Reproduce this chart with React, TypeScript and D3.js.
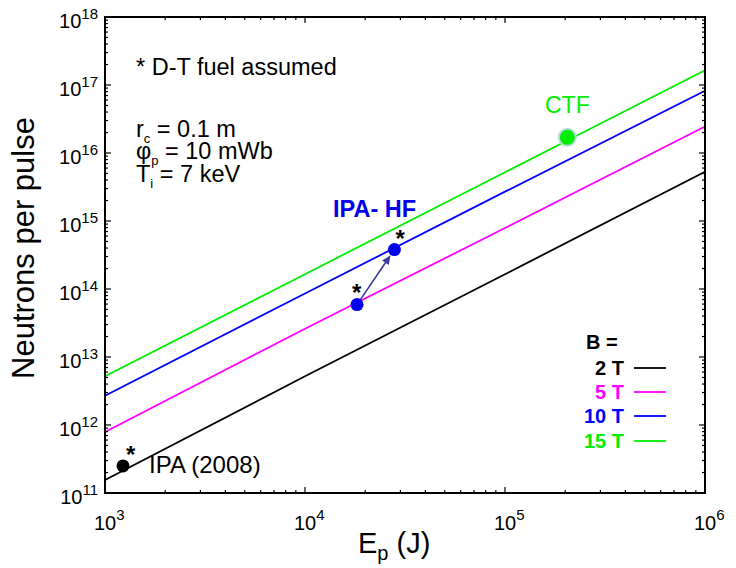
import React from "react";
import * as d3 from "d3";

const energyJ = [1e3, 1e4, 1e5, 1e6];
const neutrons2T = [1.55e11, 5.2e12, 1.65e14, 5.3e15];
const neutrons5T = [7.9e11, 2.6e13, 7.9e14, 2.45e16];
const neutrons10T = [2.7e12, 8.6e13, 2.7e15, 8.2e16];
const neutrons15T = [5.2e12, 1.65e14, 5.2e15, 1.65e17];

const seriesNames = ["2 T", "5 T", "10 T", "15 T"];
const seriesColors = ["#000000", "#ff00ff", "#0000ff", "#00ee00"];

const ipa2008 = { e: 1230, n: 2.5e11 };
const ipaHFLow = { e: 18200, n: 5.9e13 };
const ipaHFHigh = { e: 28000, n: 3.8e14 };
const ctf = { e: 2.05e5, n: 1.7e16 };

const xTickExps = [3, 4, 5, 6];
const yTickExps = [11, 12, 13, 14, 15, 16, 17, 18];

const W = 736, H = 568;
const L = 105, R = 705, T = 17, B = 493;
const FONT = "Liberation Sans, Arial, Helvetica, sans-serif";

export default function App() {
  const x = d3.scaleLog().domain([1e3, 1e6]).range([L, R]);
  const y = d3.scaleLog().domain([1e11, 1e18]).range([B, T]);
  const series = [neutrons2T, neutrons5T, neutrons10T, neutrons15T];
  const line = d3
    .line<[number, number]>()
    .x((d) => x(d[0]))
    .y((d) => y(d[1]));

  const xMinor: number[] = [];
  for (let e = 3; e < 6; e++) for (let k = 2; k <= 9; k++) xMinor.push(k * Math.pow(10, e));
  const yMinor: number[] = [];
  for (let e = 11; e < 18; e++) for (let k = 2; k <= 9; k++) yMinor.push(k * Math.pow(10, e));

  const ax1 = x(ipaHFLow.e), ay1 = y(ipaHFLow.n);
  const ax2 = x(ipaHFHigh.e), ay2 = y(ipaHFHigh.n);
  const ang = Math.atan2(ay2 - ay1, ax2 - ax1);
  const tipX = ax2 - Math.cos(ang) * 7, tipY = ay2 - Math.sin(ang) * 7;
  const ah = 9, aw = 4;
  const bx = tipX - Math.cos(ang) * ah, by = tipY - Math.sin(ang) * ah;
  const arrowHead = `M${tipX},${tipY} L${bx - Math.sin(ang) * aw},${by + Math.cos(ang) * aw} L${bx + Math.sin(ang) * aw},${by - Math.cos(ang) * aw} Z`;

  const legendY = [368, 392, 416, 441];

  return (
    <svg width={W} height={H} style={{ position: "absolute", left: 0, top: 0, background: "#fff" }} fontFamily={FONT}>
      <rect x={0} y={0} width={W} height={H} fill="#fff" />
      <defs>
        <clipPath id="plotclip">
          <rect x={L} y={T} width={R - L} height={B - T} />
        </clipPath>
      </defs>
      <g clipPath="url(#plotclip)">
        {series.map((s, i) => (
          <path
            key={i}
            d={line(energyJ.map((e, j) => [e, s[j]] as [number, number])) || ""}
            fill="none"
            stroke={seriesColors[i]}
            strokeWidth={1.8}
          />
        ))}
      </g>

      {/* ticks */}
      <g stroke="#000" strokeWidth={1.2}>
        {xTickExps.map((e) => {
          const px = x(Math.pow(10, e));
          return (
            <g key={"xt" + e}>
              <line x1={px} x2={px} y1={B} y2={B - 6} />
              <line x1={px} x2={px} y1={T} y2={T + 6} />
            </g>
          );
        })}
        {xMinor.map((v, i) => {
          const px = x(v);
          return (
            <g key={"xm" + i}>
              <line x1={px} x2={px} y1={B} y2={B - 3} />
              <line x1={px} x2={px} y1={T} y2={T + 3} />
            </g>
          );
        })}
        {yTickExps.map((e) => {
          const py = y(Math.pow(10, e));
          return (
            <g key={"yt" + e}>
              <line x1={L} x2={L + 6} y1={py} y2={py} />
              <line x1={R} x2={R - 6} y1={py} y2={py} />
            </g>
          );
        })}
        {yMinor.map((v, i) => {
          const py = y(v);
          return (
            <g key={"ym" + i}>
              <line x1={L} x2={L + 3} y1={py} y2={py} />
              <line x1={R} x2={R - 3} y1={py} y2={py} />
            </g>
          );
        })}
      </g>
      <rect x={L} y={T} width={R - L} height={B - T} fill="none" stroke="#000" strokeWidth={2} />

      {/* tick labels */}
      {xTickExps.map((e) => (
        <text key={"xl" + e} x={x(Math.pow(10, e)) - 11} y={530} fontSize={20} fill="#000">
          10
          <tspan dy={-10} fontSize={15}>{e}</tspan>
        </text>
      ))}
      {yTickExps.map((e) => (
        <text key={"yl" + e} x={98} y={y(Math.pow(10, e)) + 11} textAnchor="end" fontSize={20} fill="#000">
          10
          <tspan dy={-9} fontSize={15}>{e}</tspan>
        </text>
      ))}

      {/* axis titles */}
      <text x={358} y={553} fontSize={29} fill="#000">
        E<tspan dy={7} fontSize={20}>p</tspan>
        <tspan dy={-7}> (J)</tspan>
      </text>
      <text transform={`translate(34,248) rotate(-90)`} textAnchor="middle" fontSize={31} fill="#000">
        Neutrons per pulse
      </text>

      {/* annotation texts */}
      <text x={136} y={75} fontSize={23.5} fill="#000">* D-T fuel assumed</text>
      <text x={136} y={137} fontSize={23.5} fill="#000">
        r<tspan dy={6} fontSize={13}>c</tspan>
        <tspan dy={-6}> = 0.1 m</tspan>
      </text>
      <text x={136} y={159} fontSize={23.5} fill="#000">
        φ<tspan dy={6} fontSize={13}>p</tspan>
        <tspan dy={-6}> = 10 mWb</tspan>
      </text>
      <text x={136} y={182} fontSize={23.5} fill="#000">
        T<tspan dy={6} fontSize={13}>i</tspan>
        <tspan dy={-6}> = 7 keV</tspan>
      </text>

      {/* IPA 2008 */}
      <circle cx={x(ipa2008.e)} cy={y(ipa2008.n)} r={6.5} fill="#000" />
      <text x={x(ipa2008.e) + 3} y={y(ipa2008.n) - 3} fontSize={24} fontWeight="bold" fill="#000">*</text>
      <text x={149} y={473} fontSize={24} fill="#000">IPA (2008)</text>

      {/* IPA-HF */}
      <line x1={ax1} y1={ay1} x2={bx} y2={by} stroke="#3b3b9e" strokeWidth={1.6} />
      <path d={arrowHead} fill="#3b3b9e" />
      <circle cx={ax1} cy={ay1} r={6.5} fill="#0000ee" />
      <circle cx={ax2} cy={ay2} r={6.5} fill="#0000ee" />
      <text x={ax1 - 5} y={ay1 - 4} fontSize={24} fontWeight="bold" fill="#000">*</text>
      <text x={ax2 + 1} y={ay2 - 3} fontSize={24} fontWeight="bold" fill="#000">*</text>
      <text x={333} y={217} fontSize={23.5} fontWeight="bold" fill="#0000ee">IPA- HF</text>

      {/* CTF */}
      <circle cx={x(ctf.e)} cy={y(ctf.n)} r={8.5} fill="#00ee00" stroke="#b8ddd8" strokeWidth={2} />
      <text x={545} y={113} fontSize={23} fill="#00ee00">CTF</text>

      {/* legend */}
      <text x={586} y={349} fontSize={20} fontWeight="bold" fill="#000">B =</text>
      {seriesNames.map((n, i) => (
        <g key={"lg" + i}>
          <text x={624} y={legendY[i] + 7} textAnchor="end" fontSize={20} fontWeight="bold" fill={seriesColors[i]}>
            {n}
          </text>
          <line x1={634} x2={666} y1={legendY[i]} y2={legendY[i]} stroke={seriesColors[i]} strokeWidth={1.8} />
        </g>
      ))}
    </svg>
  );
}
